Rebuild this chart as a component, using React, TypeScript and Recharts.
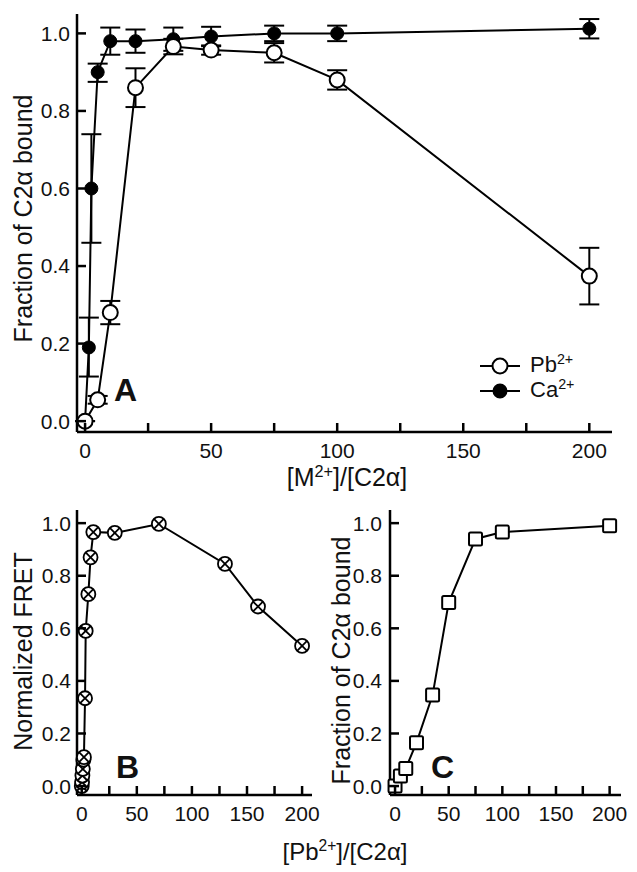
import { ScatterChart, Scatter, XAxis, YAxis, ErrorBar } from 'recharts'

// panel A: Pb2+ (open circles) and Ca2+ (filled circles)
const pbX = [0, 5, 10, 20, 35, 50, 75, 100, 200]
const pbY = [0.0, 0.055, 0.28, 0.86, 0.966, 0.957, 0.95, 0.88, 0.374]
const pbErr = [0, 0.01, 0.03, 0.05, 0.02, 0.012, 0.025, 0.025, 0.073]

const caX = [0, 1.5, 2.5, 5, 10, 20, 35, 50, 75, 100, 200]
const caY = [0, 0.19, 0.6, 0.9, 0.98, 0.98, 0.985, 0.992, 1.0, 1.0, 1.012]
const caErrLow = [0, 0.075, 0.14, 0.025, 0.035, 0.03, 0.03, 0.025, 0.02, 0.02, 0.025]
const caErrHigh = [0, 0.077, 0.14, 0.022, 0.035, 0.03, 0.03, 0.025, 0.02, 0.02, 0.025]

// panel B: normalized FRET
const fretX = [0, 0.3, 0.6, 1, 1.5, 2, 3, 3.6, 6, 8, 10.5, 30, 70, 130, 160, 200]
const fretY = [0.0, 0.015, 0.04, 0.065, 0.1, 0.11, 0.334, 0.59, 0.73, 0.87, 0.966, 0.963, 0.997, 0.845, 0.683, 0.533]

// panel C: fraction bound vs Pb2+
const boundX = [0, 5, 10, 20, 35, 50, 75, 100, 200]
const boundY = [0.0, 0.038, 0.067, 0.165, 0.346, 0.698, 0.94, 0.966, 0.99]

const xTicks = [0, 25, 50, 75, 100, 125, 150, 175, 200]
const yTicks = [0, 0.2, 0.4, 0.6, 0.8, 1.0]

const pbData = pbX.map((x, i) => ({ x, y: pbY[i], err: pbErr[i] }))
const caData = caX.map((x, i) => ({ x, y: caY[i], err: [caErrLow[i], caErrHigh[i]] }))
const fretData = fretX.map((x, i) => ({ x, y: fretY[i] }))
const boundData = boundX.map((x, i) => ({ x, y: boundY[i] }))

const FONT = '"Liberation Sans", Arial, sans-serif'
const INK = '#111'
const axisLine = { stroke: '#000', strokeWidth: 2.5 }
const seriesLine = { stroke: '#000', strokeWidth: 2 }
const TICK_LEN = 9
const TICK_FONT = 21

const fmtX = (v: number) => (v % 50 === 0 ? String(v) : '')
const fmtY = (v: number) => v.toFixed(1)

// ticks point into the plot, so the tick renders its own line next to the label
const makeXTick = (margin: number) => (p: any) => {
  const axisY = p.y - margin
  return (
    <g>
      <line x1={p.x} x2={p.x} y1={axisY + 1} y2={axisY - TICK_LEN} stroke="#000" strokeWidth={2.5} />
      <text x={p.x} y={p.y} dy="0.71em" textAnchor="middle" fontSize={TICK_FONT} fill={INK} fontFamily={FONT}>
        {fmtX(p.payload.value)}
      </text>
    </g>
  )
}
const makeYTick = (margin: number) => (p: any) => {
  const axisX = p.x + margin
  return (
    <g>
      <line x1={axisX - 1} x2={axisX + TICK_LEN} y1={p.y} y2={p.y} stroke="#000" strokeWidth={2.5} />
      <text x={p.x} y={p.y} dy="0.355em" textAnchor="end" fontSize={TICK_FONT} fill={INK} fontFamily={FONT}>
        {fmtY(p.payload.value)}
      </text>
    </g>
  )
}

const OpenCircle = (p: any) => (
  <circle cx={p.cx} cy={p.cy} r={7.5} fill="#fff" stroke="#000" strokeWidth={2} />
)
const FilledCircle = (p: any) => <circle cx={p.cx} cy={p.cy} r={6.5} fill="#000" stroke="#000" strokeWidth={1} />
const CrossCircle = (p: any) => {
  const d = 7 * 0.707
  return (
    <g stroke="#000" strokeWidth={1.8}>
      <circle cx={p.cx} cy={p.cy} r={7} fill="#fff" />
      <line x1={p.cx - d} y1={p.cy - d} x2={p.cx + d} y2={p.cy + d} />
      <line x1={p.cx - d} y1={p.cy + d} x2={p.cx + d} y2={p.cy - d} />
    </g>
  )
}
const Square = (p: any) => (
  <rect x={p.cx - 6.5} y={p.cy - 6.5} width={13} height={13} rx={1.5} fill="#fff" stroke="#000" strokeWidth={2} />
)

const Sup = ({ children }: { children: string }) => (
  <span style={{ fontSize: '0.65em', position: 'relative', top: '-0.55em' }}>{children}</span>
)

function axes(xDomain: number[], yDomain: number[], xh: number, yw: number, xMargin: number, yMargin: number) {
  return [
    <XAxis
      key="xb"
      type="number"
      dataKey="x"
      domain={xDomain}
      ticks={xTicks}
      interval={0}
      height={xh}
      tickSize={0}
      tickMargin={xMargin}
      axisLine={axisLine}
      tickLine={false}
      tick={makeXTick(xMargin)}
    />,
    <XAxis key="xt" xAxisId="top" orientation="top" type="number" domain={xDomain} height={0} tick={false} tickLine={false} axisLine={axisLine} />,
    <YAxis
      key="yl"
      type="number"
      dataKey="y"
      domain={yDomain}
      ticks={yTicks}
      interval={0}
      width={yw}
      tickSize={0}
      tickMargin={yMargin}
      axisLine={axisLine}
      tickLine={false}
      tick={makeYTick(yMargin)}
    />,
    <YAxis key="yr" yAxisId="right" orientation="right" type="number" domain={yDomain} width={0} tick={false} tickLine={false} axisLine={axisLine} />,
  ]
}

const abs = (left: number, top: number): React.CSSProperties => ({ position: 'absolute', left, top })

function VTitle({ cx, cy, size, children }: { cx: number; cy: number; size: number; children: React.ReactNode }) {
  return (
    <div
      style={{
        position: 'absolute',
        left: cx - 200,
        top: cy - size / 2,
        width: 400,
        height: size,
        lineHeight: `${size}px`,
        fontSize: size,
        textAlign: 'center',
        whiteSpace: 'nowrap',
        transform: 'rotate(-90deg)',
        color: INK,
        pointerEvents: 'none',
      }}
    >
      {children}
    </div>
  )
}

function HTitle({ cx, top, size, children }: { cx: number; top: number; size: number; children: React.ReactNode }) {
  return (
    <div style={{ position: 'absolute', left: cx - 200, top, width: 400, fontSize: size, lineHeight: `${size}px`, textAlign: 'center', whiteSpace: 'nowrap', color: INK }}>
      {children}
    </div>
  )
}

function PanelLabel({ left, top, text }: { left: number; top: number; text: string }) {
  return <div style={{ ...abs(left, top), fontSize: 32, fontWeight: 'bold', lineHeight: '32px', color: INK }}>{text}</div>
}

function LegendRow({ top, filled, label }: { top: number; filled: boolean; label: string }) {
  return (
    <div style={{ ...abs(480, top - 12), height: 24, display: 'flex', alignItems: 'center' }}>
      <svg width={42} height={24}>
        <line x1={0} y1={12} x2={40} y2={12} stroke="#000" strokeWidth={2} />
        <circle cx={20} cy={12} r={filled ? 6.5 : 7.5} fill={filled ? '#000' : '#fff'} stroke="#000" strokeWidth={2} />
      </svg>
      <span style={{ fontSize: 22, marginLeft: 8, lineHeight: '24px', color: INK }}>
        {label}
        <Sup>2+</Sup>
      </span>
    </div>
  )
}

const domA = { x: [-3.2, 209], y: [-0.028, 1.05] }
const domB = { x: [-4.3, 209], y: [-0.034, 1.05] }
const domC = { x: [-4.7, 210.6], y: [-0.034, 1.05] }

export default function App() {
  return (
    <div style={{ position: 'absolute', left: 0, top: 0, width: 637, height: 872, background: '#fff', fontFamily: FONT }}>
      <div style={abs(0, 0)}>
        <ScatterChart width={637} height={490} margin={{ top: 14, right: 25, bottom: 0, left: 0 }}>
          {axes(domA.x, domA.y, 58, 77, 11, 7)}
          <Scatter data={caData} shape={FilledCircle} line={seriesLine} lineType="joint" isAnimationActive={false}>
            <ErrorBar dataKey="err" direction="y" width={10} stroke="#000" strokeWidth={2} />
          </Scatter>
          <Scatter data={pbData} shape={OpenCircle} line={seriesLine} lineType="joint" isAnimationActive={false}>
            <ErrorBar dataKey="err" direction="y" width={10} stroke="#000" strokeWidth={2} />
          </Scatter>
        </ScatterChart>
      </div>

      <div style={abs(0, 490)}>
        <ScatterChart width={320} height={350} margin={{ top: 20, right: 8, bottom: 0, left: 0 }}>
          {axes(domB.x, domB.y, 45, 77, 11, 6)}
          <Scatter data={fretData} shape={CrossCircle} line={seriesLine} lineType="joint" isAnimationActive={false} />
        </ScatterChart>
      </div>

      <div style={abs(330, 490)}>
        <ScatterChart width={300} height={350} margin={{ top: 20, right: 9, bottom: 0, left: 0 }}>
          {axes(domC.x, domC.y, 45, 60, 11, 8)}
          <Scatter data={boundData} shape={Square} line={seriesLine} lineType="joint" isAnimationActive={false} />
        </ScatterChart>
      </div>

      <VTitle cx={23} cy={218} size={25}>
        Fraction of C2α bound
      </VTitle>
      <VTitle cx={23} cy={651} size={25}>
        Normalized FRET
      </VTitle>
      <VTitle cx={341} cy={660} size={25}>
        Fraction of C2α bound
      </VTitle>

      <HTitle cx={347} top={465} size={25}>
        [M<Sup>2+</Sup>]/[C2α]
      </HTitle>
      <HTitle cx={345} top={840} size={24}>
        [Pb<Sup>2+</Sup>]/[C2α]
      </HTitle>

      <LegendRow top={366} filled={false} label="Pb" />
      <LegendRow top={391} filled={true} label="Ca" />

      <PanelLabel left={114} top={374} text="A" />
      <PanelLabel left={116} top={751} text="B" />
      <PanelLabel left={431} top={751} text="C" />
    </div>
  )
}
